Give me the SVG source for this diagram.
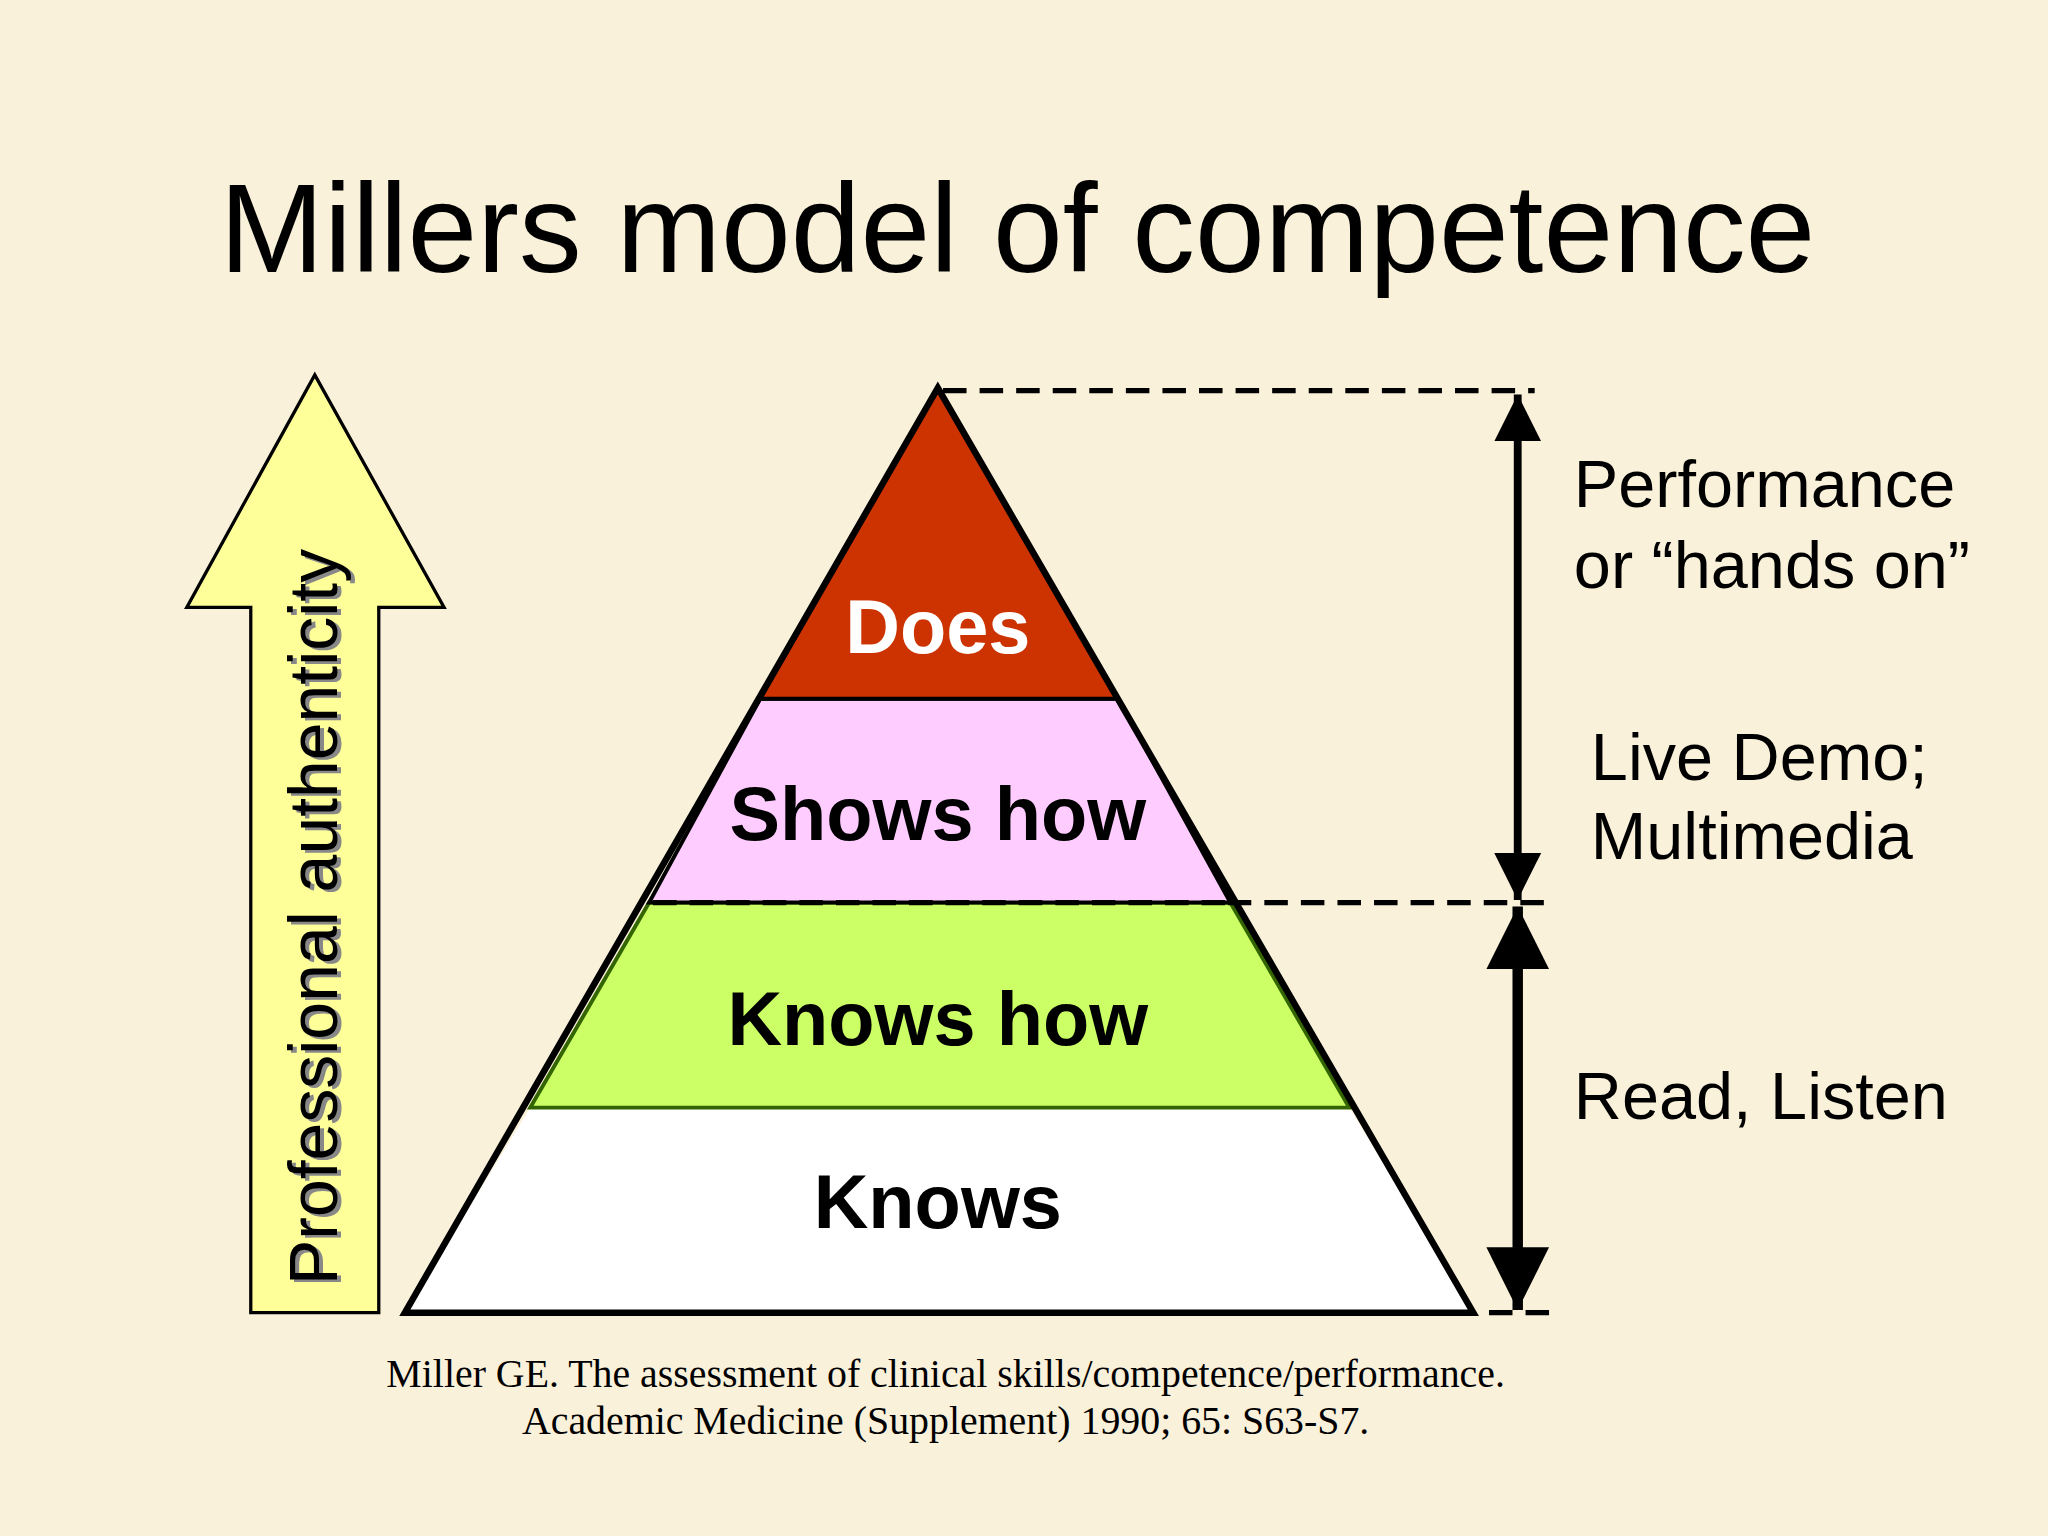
<svg xmlns="http://www.w3.org/2000/svg" width="2048" height="1536" viewBox="0 0 2048 1536">
<defs>
<style>
.s{font-family:"Liberation Sans",Arial,sans-serif}
.lvl{font-family:"Liberation Sans",Arial,sans-serif;font-weight:bold;font-size:58px;text-anchor:middle}
.lab{font-family:"Liberation Sans",Arial,sans-serif;font-size:51px;fill:#000}
.dash{stroke:#000;stroke-width:4;stroke-dasharray:18 10;fill:none}
.cit{font-family:"Liberation Serif","Times New Roman",serif;font-size:30.5px;text-anchor:middle}
</style>
<marker id="ah" viewBox="0 0 10 10" refX="10" refY="5" markerWidth="6" markerHeight="10" markerUnits="strokeWidth" orient="auto-start-reverse"><path d="M0,0L10,5L0,10z" fill="#000"/></marker>
</defs>
<rect width="2048" height="1536" fill="#FAF1DA"/>
<g transform="scale(1.30612)">
<text id="title" class="s" x="779" y="208" font-size="96" text-anchor="middle">Millers model of competence</text>
<g id="auth-arrow">
<polygon points="241,287 340,465 290,465 290,1005 192,1005 192,465 143,465" fill="#FFFF99" stroke="#000" stroke-width="2.5"/>
<text class="s" font-size="52" fill="#888" text-anchor="middle" transform="translate(261,704) rotate(-90)">Professional authenticity</text>
<text class="s" font-size="52" fill="#000" text-anchor="middle" transform="translate(258,702) rotate(-90)">Professional authenticity</text>
</g>
<g id="knows">
<polygon points="406,848 1033,848 1128,1005 310,1005" fill="#FFFFFF"/>
<text class="lvl" x="718" y="940" fill="#000">Knows</text>
</g>
<g id="knows-how">
<polygon points="497,691 942,691 1033,848 406,848" fill="#CCFF66" stroke="#336600" stroke-width="3"/>
<text class="lvl" x="718" y="800" fill="#000">Knows how</text>
</g>
<g id="shows-how">
<polygon points="582,535 856,535 942,691 497,691" fill="#FFCCFF" stroke="#000" stroke-width="3"/>
<text class="lvl" x="718" y="643" fill="#000">Shows how</text>
</g>
<g id="does">
<polygon points="718,297 856,535 582,535" fill="#CC3300" stroke="#000" stroke-width="3"/>
<text class="lvl" x="718" y="500" fill="#FFFFFF">Does</text>
</g>
<polygon points="718,297 1128,1005 310,1005" fill="none" stroke="#000" stroke-width="5" stroke-linejoin="miter"/>
<g id="connectors">
<line class="dash" x1="722" y1="299" x2="1175" y2="299"/>
<line class="dash" x1="940" y1="691" x2="1190" y2="691"/>
<line class="dash" x1="500" y1="691" x2="940" y2="691" stroke-width="2"/>
<line class="dash" x1="1140" y1="1005" x2="1190" y2="1005"/>
<line x1="1162" y1="302" x2="1162" y2="689" stroke="#000" stroke-width="6" marker-start="url(#ah)" marker-end="url(#ah)"/>
<line x1="1162" y1="694" x2="1162" y2="1003" stroke="#000" stroke-width="8" marker-start="url(#ah)" marker-end="url(#ah)"/>
</g>
<g id="labels">
<text class="lab" x="1205" y="388">Performance</text>
<text class="lab" x="1205" y="450">or “hands on”</text>
<text class="lab" x="1218" y="597">Live Demo;</text>
<text class="lab" x="1218" y="658">Multimedia</text>
<text class="lab" x="1205" y="857">Read, Listen</text>
</g>
<g id="citation">
<text class="cit" x="724" y="1062">Miller GE. The assessment of clinical skills/competence/performance.</text>
<text class="cit" x="724" y="1098">Academic Medicine (Supplement) 1990; 65: S63-S7.</text>
</g>
</g>
</svg>
